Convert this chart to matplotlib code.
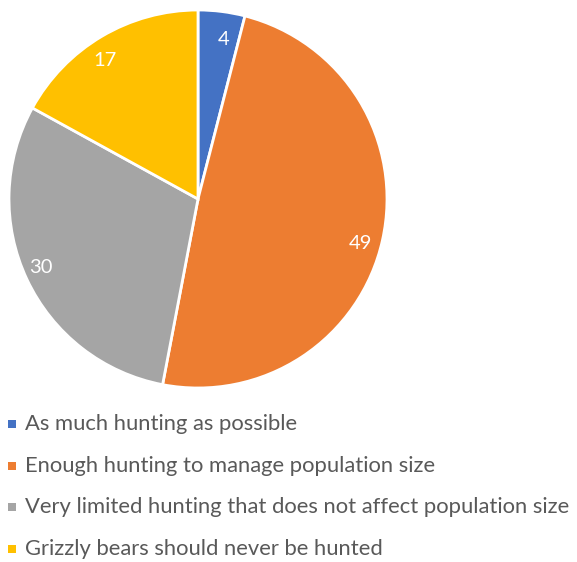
import matplotlib
matplotlib.use("Agg")
import matplotlib.pyplot as plt
from matplotlib.patches import Rectangle
import numpy as np

categories = ["As much hunting as possible",
              "Enough hunting to manage population size",
              "Very limited hunting that does not affect population size",
              "Grizzly bears should never be hunted"]
values = [4, 49, 30, 17]
colors = ["#4472C4", "#ED7D31", "#A5A5A5", "#FFC000"]

plt.rcParams['font.family'] = ['Lato', 'DejaVu Sans']

W, H = 577, 562
fig = plt.figure(figsize=(W/100, H/100), dpi=100)
cx, cy, r = 198, 199, 189
ax = fig.add_axes([(cx - r)/W, (H - cy - r)/H, 2*r/W, 2*r/H])
wedges, texts = ax.pie(values, colors=colors, startangle=90, counterclock=False,
                       labels=[str(v) for v in values], labeldistance=0.85,
                       wedgeprops=dict(edgecolor="white", linewidth=2),
                       textprops=dict(color="white", fontsize=14.5))
# the large slice label sits a bit lower in the reference
ang = np.deg2rad(-16.5)
texts[1].set_position((0.83*np.cos(ang), 0.83*np.sin(ang)))
ax.set_xlim(-1, 1)
ax.set_ylim(-1, 1)
ax.set_aspect('equal')
ax.axis('off')

y0, dy = 424, 41.7
for i, (cat, col) in enumerate(zip(categories, colors)):
    y = y0 + i*dy
    fig.patches.append(Rectangle((8/W, 1 - (y + 4)/H), 8/W, 8/H,
                                 transform=fig.transFigure, facecolor=col,
                                 edgecolor='none'))
    fig.text(25/W, 1 - y/H, cat, color="#595959", fontsize=15.8,
             va='center', ha='left')

fig.savefig("out.png", dpi=100)
